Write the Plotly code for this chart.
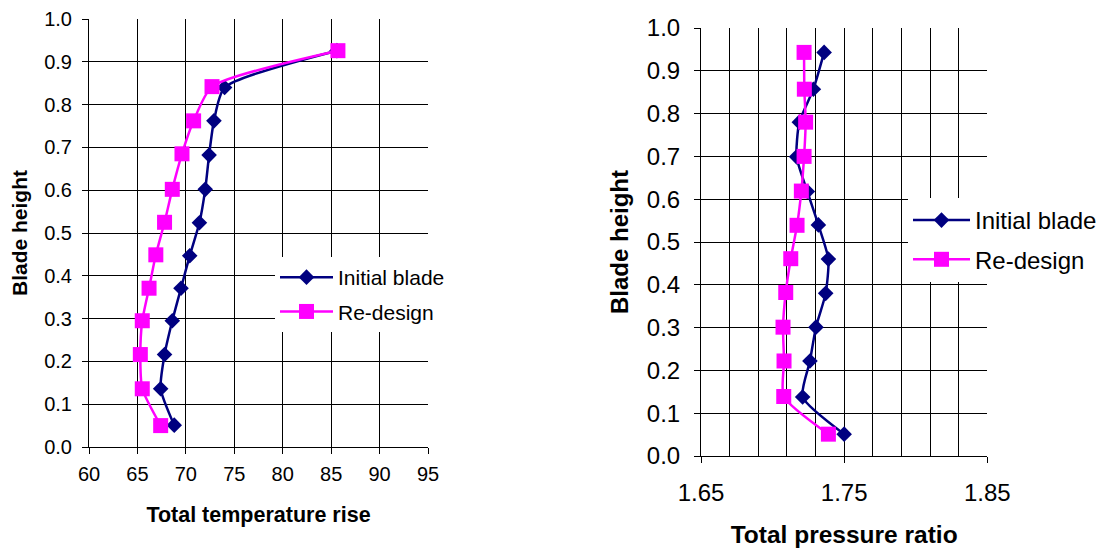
import plotly.graph_objects as go

# Left chart: total temperature rise
temp_height_init = [0.926, 0.840, 0.762, 0.682, 0.602, 0.524, 0.447, 0.371, 0.295, 0.216, 0.136, 0.051]
temp_init = [85.6, 74.0, 72.9, 72.4, 72.0, 71.4, 70.4, 69.5, 68.6, 67.8, 67.4, 68.8]
temp_height_re = [0.926, 0.842, 0.762, 0.685, 0.602, 0.525, 0.449, 0.371, 0.295, 0.216, 0.136, 0.050]
temp_re = [85.7, 72.7, 70.8, 69.6, 68.6, 67.8, 66.9, 66.2, 65.5, 65.3, 65.5, 67.4]

# Right chart: total pressure ratio
pr_height_init = [0.943, 0.857, 0.780, 0.699, 0.618, 0.540, 0.460, 0.380, 0.301, 0.222, 0.138, 0.051]
pr_init = [1.736, 1.7285, 1.7187, 1.7168, 1.7243, 1.732, 1.739, 1.7371, 1.7303, 1.7261, 1.721, 1.750]
pr_height_re = [0.943, 0.857, 0.780, 0.700, 0.619, 0.539, 0.461, 0.382, 0.301, 0.222, 0.139, 0.051]
pr_re = [1.722, 1.7222, 1.7231, 1.722, 1.7201, 1.7171, 1.7127, 1.7092, 1.7073, 1.708, 1.7078, 1.739]

series_names = ["Initial blade", "Re-design"]
NAVY = "#000080"
MAG = "#FF00FF"
FONT = "Liberation Sans, Arial, sans-serif"

fig = go.Figure()

def add(x, y, name, color, symbol, size, xa, ya, legend, group):
    fig.add_trace(go.Scatter(
        x=x, y=y, name=name, mode="lines+markers",
        line=dict(color=color, width=2.5, shape="spline", smoothing=0.6),
        marker=dict(symbol=symbol, size=size, color=color),
        xaxis=xa, yaxis=ya, legend=legend, legendgroup=group, cliponaxis=False))

add(temp_init, temp_height_init, series_names[0], NAVY, "diamond", 12, "x", "y", "legend", "t1")
add(temp_re, temp_height_re, series_names[1], MAG, "square", 15, "x", "y", "legend", "t2")
add(pr_init, pr_height_init, series_names[0], NAVY, "diamond", 12, "x2", "y2", "legend2", "p1")
add(pr_re, pr_height_re, series_names[1], MAG, "square", 15, "x2", "y2", "legend2", "p2")

W, H = 1106, 551
OFF = 8  # page body margin
def dx(a, b): return [(a - OFF) / W, (b - OFF) / W]
def dy(top, bottom): return [(H - (bottom - OFF)) / H, (H - (top - OFF)) / H]

axis_common = dict(showline=True, linecolor="black", linewidth=1, ticks="outside",
                   ticklen=6, tickcolor="black", showgrid=True, gridcolor="black",
                   gridwidth=1, zeroline=False, mirror=False, automargin=False)

fig.update_layout(
    width=W, height=H, margin=dict(l=0, r=0, t=0, b=0),
    paper_bgcolor="white", plot_bgcolor="white",
    font=dict(family=FONT, color="black"),
    xaxis=dict(domain=dx(89, 428), range=[60, 95], dtick=5, tick0=60,
               tickfont=dict(size=20), anchor="y", ticklabelstandoff=3,
               title=dict(text="<b>Total temperature rise</b>", font=dict(size=21.5), standoff=22),
               **axis_common),
    yaxis=dict(domain=dy(19, 447), range=[0, 1.0], dtick=0.1, tickformat=".1f",
               tickfont=dict(size=20), anchor="x", ticklabelstandoff=6,
               title=dict(text="<b>Blade height</b>", font=dict(size=21), standoff=12),
               **axis_common),
    xaxis2=dict(domain=dx(701, 987.3), range=[1.65, 1.85], dtick=0.1, tick0=1.65,
                tickformat=".2f", tickfont=dict(size=24), anchor="y2", ticklabelstandoff=9,
                minor=dict(dtick=0.02, tick0=1.65, showgrid=True, gridcolor="black", gridwidth=1),
                title=dict(text="<b>Total pressure ratio</b>", font=dict(size=24.5), standoff=21),
                **axis_common),
    yaxis2=dict(domain=dy(28, 456), range=[0, 1.0], dtick=0.1, tickformat=".1f",
                tickfont=dict(size=24), anchor="x2", ticklabelstandoff=9,
                title=dict(text="<b>Blade height</b>", font=dict(size=24), standoff=11),
                **axis_common),
    legend=dict(x=(275 - OFF) / W, y=(H - (257 - OFF)) / H, xanchor="left", yanchor="top",
                bgcolor="white", font=dict(size=21), tracegroupgap=4, itemwidth=53),
    legend2=dict(x=(908 - OFF) / W, y=(H - (198 - OFF)) / H, xanchor="left", yanchor="top",
                 bgcolor="white", font=dict(size=24), tracegroupgap=5, itemwidth=57),
)

fig.write_html("out.html")
